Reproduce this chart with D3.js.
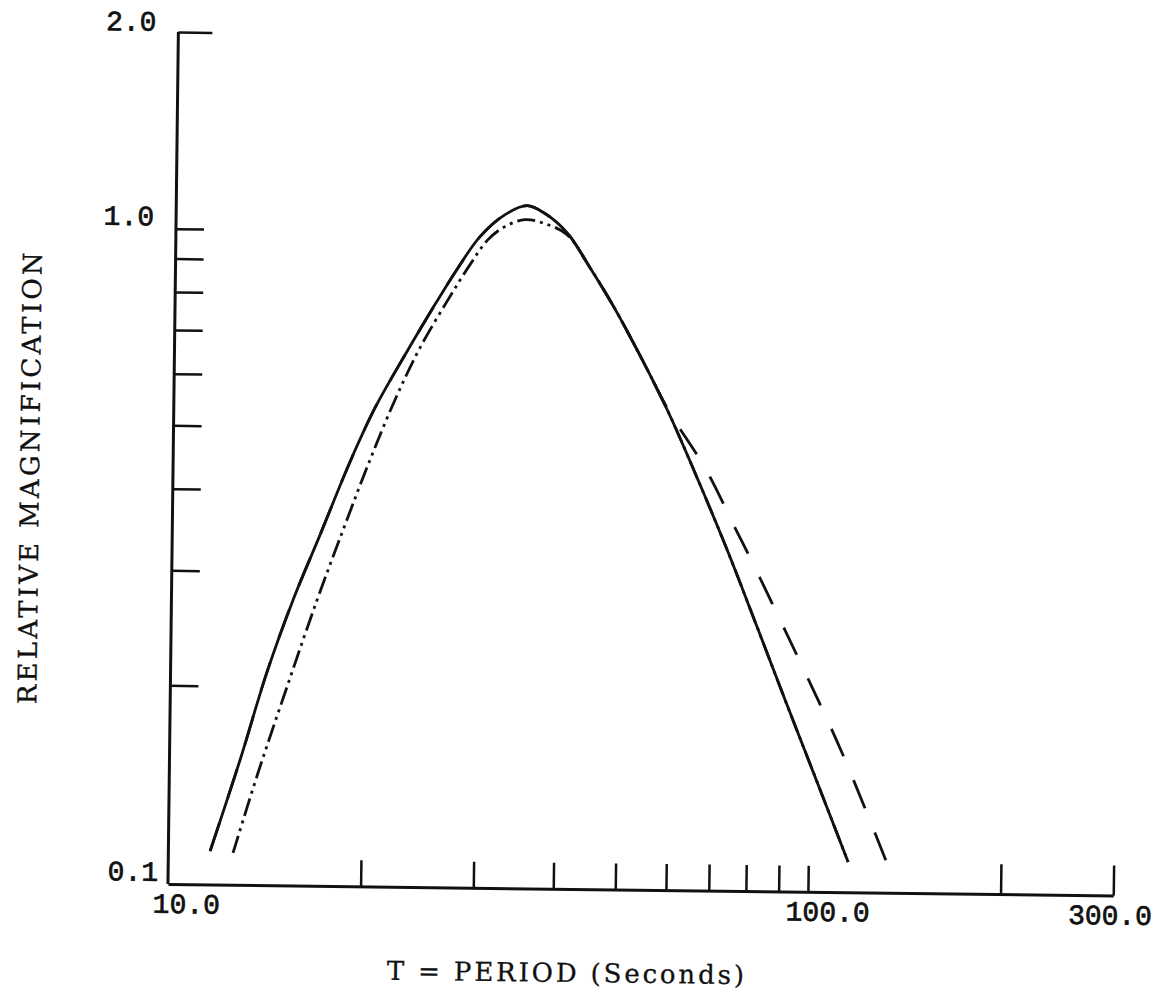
<!DOCTYPE html>
<html>
<head>
<meta charset="utf-8">
<script src="https://cdn.jsdelivr.net/npm/d3@7"></script>
<style>
  html, body { margin: 0; padding: 0; background: #fff; }
  svg { display: block; }
</style>
</head>
<body>
<svg id="chart" width="1169" height="993"></svg>
<script>
// ---- data ----
// solid curve
const solidT = [11.62, 12.89, 14.15, 15.49, 17.02, 18.90, 20.63, 22.93, 25.30, 27.64, 29.87, 32.66, 35.32, 37.69, 40.84, 44.43, 48.35, 53.41, 59.22, 65.91, 73.66, 82.31, 92.02, 102.85, 115.4];
const solidM = [0.1117, 0.1542, 0.2106, 0.2717, 0.3421, 0.4432, 0.5367, 0.6478, 0.7655, 0.8824, 0.9853, 1.066, 1.101, 1.072, 1.003, 0.8873, 0.7770, 0.6522, 0.5359, 0.4252, 0.3303, 0.2521, 0.1916, 0.1463, 0.1105];
// dash-dot-dot curve
const dashDotT = [12.62, 13.76, 15.21, 16.89, 18.61, 20.31, 22.16, 24.19, 26.70, 28.85, 30.74, 32.67, 35.09, 37.72, 40.84, 44.43, 48.35, 53.41, 59.22, 65.91, 73.66, 82.31, 92.02, 102.85, 115.4];
const dashDotM = [0.1111, 0.1475, 0.1998, 0.2720, 0.3547, 0.4468, 0.5526, 0.6645, 0.7880, 0.8924, 0.9753, 1.022, 1.048, 1.034, 0.9961, 0.8873, 0.7770, 0.6522, 0.5359, 0.4252, 0.3303, 0.2521, 0.1916, 0.1463, 0.1105];
// dashed curve
const dashedT = [11.62, 12.89, 14.15, 15.49, 17.02, 18.90, 20.63, 22.93, 25.30, 27.64, 29.87, 32.66, 35.32, 37.69, 40.84, 44.43, 48.35, 53.41, 59.20, 68.05, 75.99, 80.61, 96.22, 112.4, 133.3];
const dashedM = [0.1117, 0.1542, 0.2106, 0.2717, 0.3421, 0.4432, 0.5367, 0.6478, 0.7655, 0.8824, 0.9853, 1.066, 1.101, 1.072, 1.003, 0.8873, 0.7770, 0.6522, 0.5398, 0.4375, 0.3545, 0.3170, 0.2233, 0.1622, 0.1091];

// axis ticks and labels
const xTicks = [20, 30, 40, 50, 60, 70, 80, 90, 100, 200, 300];
const yTicks = [0.2, 0.3, 0.4, 0.5, 0.6, 0.7, 0.8, 0.9, 1.0, 2.0];
const xTickLabels = [{v: 10, t: "10.0"}, {v: 100, t: "100.0"}, {v: 300, t: "300.0"}];
const yTickLabels = [{v: 2.0, t: "2.0"}, {v: 1.0, t: "1.0"}, {v: 0.1, t: "0.1"}];
const xTitle = "T = PERIOD (Seconds)";
const yTitle = "RELATIVE MAGNIFICATION";

// ---- drawing ----
const svg = d3.select("#chart");
const g = svg.append("g").attr("transform", "rotate(0.7,169,881)");

const x = d3.scaleLog().domain([10, 300]).range([168, 168 + 640 * Math.log10(30)]);
const y = d3.scaleLog().domain([0.1, 2]).range([882, 32]);

const ink = "#111";
const baseY = y(0.1) + 2;

// x axis (ticks pointing up)
const xAxis = g.append("g")
  .attr("transform", `translate(0,${baseY})`)
  .call(d3.axisTop(x).tickValues(xTicks).tickSize(26).tickSizeOuter(0).tickFormat(""));
xAxis.select(".domain").attr("stroke", ink).attr("stroke-width", 3);
xAxis.selectAll(".tick line").attr("stroke", ink).attr("stroke-width", 2.5)
  .attr("y2", d => d >= 200 ? -30 : -26);

// y axis (ticks pointing right)
const yAxis = g.append("g")
  .attr("transform", `translate(${x(10)},0)`)
  .call(d3.axisRight(y).tickValues(yTicks).tickSize(28).tickSizeOuter(0).tickFormat(""));
yAxis.select(".domain").attr("stroke", ink).attr("stroke-width", 3)
  .attr("d", `M0,${baseY}V${y(2)}`);
yAxis.selectAll(".tick line").attr("stroke", ink).attr("stroke-width", 2.5)
  .attr("x2", d => d === 2 ? 34 : 28);

// tick labels
const labFont = "'Liberation Mono', 'DejaVu Sans Mono', monospace";
const xLabDx = {10: -15, 100: -22, 300: -45};
g.selectAll("text.xlab").data(xTickLabels).join("text")
  .attr("class", "xlab")
  .attr("x", d => x(d.v) + xLabDx[d.v])
  .attr("y", baseY + 29)
  .attr("font-family", labFont).attr("font-size", 28)
  .attr("fill", ink).attr("stroke", ink).attr("stroke-width", 0.7)
  .text(d => d.t);

const yLabX = {2: -22, 1: -22, 0.1: -10};
const yLabDy = {2: -1, 1: -3, 0.1: -1};
g.selectAll("text.ylab").data(yTickLabels).join("text")
  .attr("class", "ylab")
  .attr("x", d => x(10) + yLabX[d.v])
  .attr("y", d => y(d.v) + yLabDy[d.v])
  .attr("text-anchor", "end")
  .attr("font-family", labFont).attr("font-size", 28)
  .attr("fill", ink).attr("stroke", ink).attr("stroke-width", 0.7)
  .text(d => d.t);

// axis titles
const titleFont = "'DejaVu Serif', serif";
g.append("text")
  .attr("x", 388).attr("y", baseY + 93)
  .attr("font-family", titleFont).attr("font-size", 26)
  .attr("textLength", 357).attr("lengthAdjust", "spacing")
  .attr("fill", ink).attr("stroke", ink).attr("stroke-width", 0.3)
  .text(xTitle);

g.append("text")
  .attr("transform", `translate(34,${480}) rotate(-90)`)
  .attr("text-anchor", "middle")
  .attr("font-family", titleFont).attr("font-size", 26)
  .attr("textLength", 452).attr("lengthAdjust", "spacing")
  .attr("fill", ink).attr("stroke", ink).attr("stroke-width", 0.3)
  .text(yTitle);

// curves
const line = d3.line().x(d => x(d[0])).y(d => y(d[1])).curve(d3.curveCatmullRom.alpha(0.5));
const zip = (a, b) => a.map((v, i) => [v, b[i]]);

g.append("path").datum(zip(dashedT, dashedM))
  .attr("d", line).attr("fill", "none").attr("stroke", ink)
  .attr("stroke-width", 2.8).attr("stroke-dasharray", "30,26");

g.append("path").datum(zip(dashDotT, dashDotM))
  .attr("d", line).attr("fill", "none").attr("stroke", ink)
  .attr("stroke-width", 2.8).attr("stroke-dasharray", "18,5,3,5,3,5");

g.append("path").datum(zip(solidT, solidM))
  .attr("d", line).attr("fill", "none").attr("stroke", ink)
  .attr("stroke-width", 2.8);
</script>
</body>
</html>
